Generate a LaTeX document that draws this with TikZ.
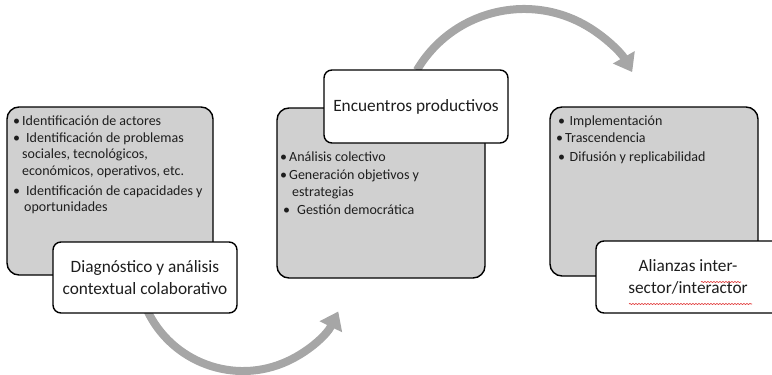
\documentclass[tikz,border=0pt]{standalone}
\usepackage{fontspec}
\setmainfont{Carlito}
\usetikzlibrary{arrows.meta,decorations.pathmorphing,calc}
\definecolor{boxgray}{HTML}{D0D0D0}
\definecolor{arrgray}{HTML}{A6A6A6}
\definecolor{txt}{HTML}{1E1E1E}
\definecolor{spell}{HTML}{E03030}
\newcommand\bul{\llap{\textbullet\hspace{2pt}}}
\begin{document}
\begin{tikzpicture}[x=1pt,y=-1pt,
  graybox/.style={draw=black, line width=1.4pt, fill=boxgray, rounded corners=12pt, inner sep=0pt},
  titlebox/.style={draw=black, line width=1.4pt, fill=white, rounded corners=8pt, align=center, inner sep=0pt, font=\fontsize{17.3}{21.5}\selectfont, text=txt},
  bullets/.style={align=left, inner sep=0pt, anchor=base west, font=\fontsize{14}{16.5}\selectfont, text=txt},
  flow/.style={draw=arrgray, line width=8pt, -{Triangle[width=24pt,length=17pt]}},
  squiggle/.style={draw=spell, line width=0.6pt, decorate, decoration={snake, amplitude=0.6pt, segment length=3pt}}
]
\useasboundingbox (0,0) rectangle (772,375);

% flow arrows (beneath the boxes)
\coordinate (a1s) at ($(243,265)+(158:106)$);
\draw[flow] (a1s) arc[start angle=158, end angle=26, radius=106];
\coordinate (a2s) at ($(524,133.3)+(210.5:124.3)$);
\draw[flow] (a2s) arc[start angle=210.5, end angle=330.5, radius=124.3];

% gray content boxes
\node[graybox, minimum width=206pt, minimum height=168pt] (g1) at (110,191) {};
\node[graybox, minimum width=208pt, minimum height=170pt] (g2) at (381,193) {};
\node[graybox, minimum width=208pt, minimum height=169pt] (g3) at (654,191.5) {};

% bullet texts (anchored at the baseline of their last line)
\node[bullets] (t1) at (22,211.5) {\bul Identificación de actores\\[0.5pt]
  \bul\hspace{4pt}Identificación de problemas\\
  sociales, tecnológicos,\\
  económicos, operativos, etc.\\[3.5pt]
  \bul\hspace{4pt}Identificación de capacidades y\\
  \hspace{2pt}oportunidades};
\node[bullets] (t2) at (289,214) {\bul Análisis colectivo\\[1.5pt]
  \bul Generación objetivos y\\
  \hspace{3pt}estrategias\\[1.5pt]
  \hspace{3pt}\bul\hspace{5pt}Gestión democrática};
\node[bullets] (t3) at (565,161.7) {\hspace{2pt}\bul\hspace{2.5pt}Implementación\\[1.2pt]
  \bul Trascendencia\\[2.5pt]
  \hspace{2pt}\bul\hspace{2.5pt}Difusión y replicabilidad};

% white title boxes
\node[titlebox, minimum width=184pt, minimum height=71pt] (w1) at (145,277.5) {Diagnóstico y análisis\\contextual colaborativo};
\node[titlebox, minimum width=184pt, minimum height=73pt] (w2) at (416,106.5) {Encuentros productivos};
\node[titlebox, minimum width=184pt, minimum height=72pt] (w3) at (688,277) {Alianzas inter-\\sector/interactor};

% spell-check underlines
\draw[squiggle] (701,282) -- (741,282);
\draw[squiggle] (629,304) -- (752,304);
\end{tikzpicture}
\end{document}
